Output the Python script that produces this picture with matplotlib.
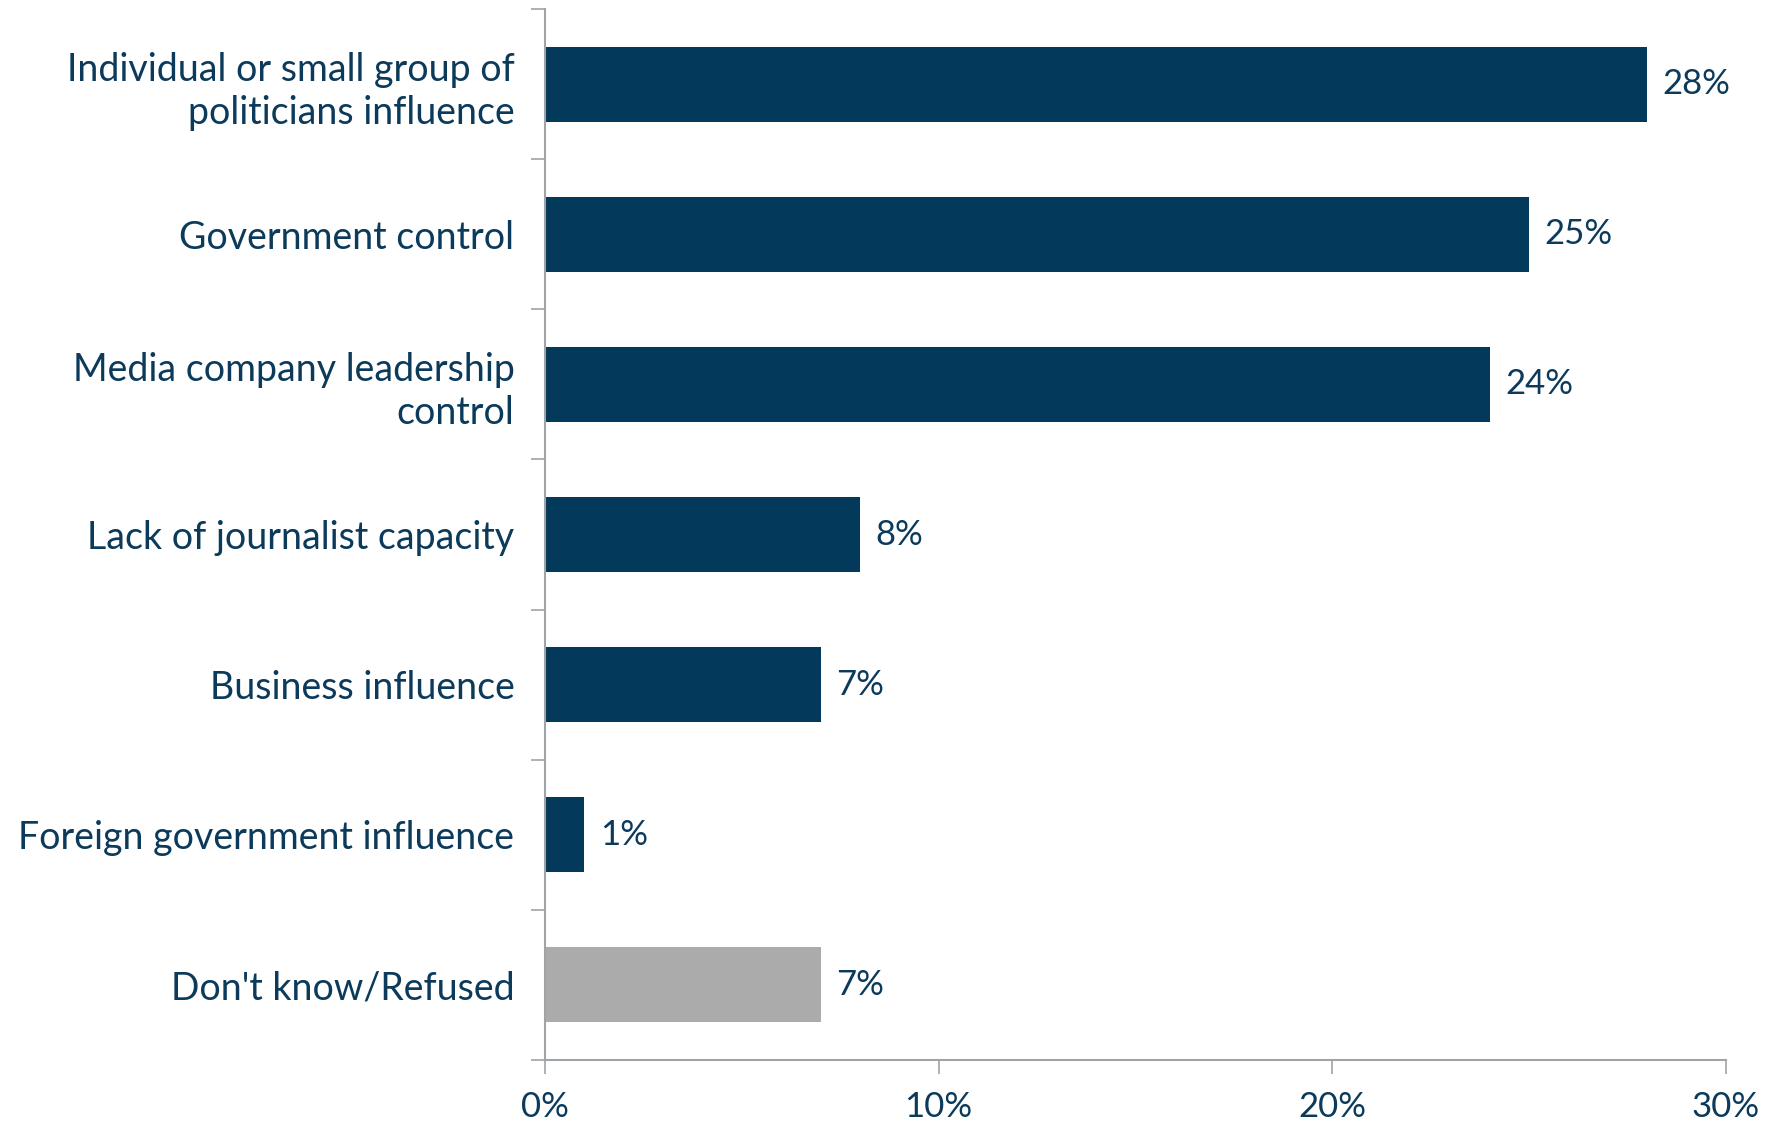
import matplotlib
matplotlib.use("Agg")
import matplotlib.pyplot as plt

categories = [
    "Individual or small group of\npoliticians influence",
    "Government control",
    "Media company leadership\ncontrol",
    "Lack of journalist capacity",
    "Business influence",
    "Foreign government influence",
    "Don't know/Refused",
]
values = [28, 25, 24, 8, 7, 1, 7]
bar_colors = ["#033A5C"] * 6 + ["#ABABAC"]
xticks = [0, 10, 20, 30]
xtick_labels = ["0%", "10%", "20%", "30%"]

text_color = "#0B3A5B"
axis_color = "#A0A4A8"

plt.rcParams['font.family'] = ['Lato', 'DejaVu Sans']

fig = plt.figure(figsize=(17.77, 11.23), dpi=100)
ax = fig.add_axes([545/1777, 1 - 1060/1123, (1726-545)/1777, (1060-9)/1123])

n = len(categories)
ypos = list(range(n))
ax.barh(ypos, values, height=0.5, color=bar_colors, zorder=2)
ax.set_ylim(n - 0.5, -0.5)
ax.set_xlim(0, 30)

for y, v in zip(ypos, values):
    ax.annotate(f"{v}%", (v, y), xytext=(11, 0), textcoords="offset points",
                va="center", ha="left", fontsize=25, color=text_color)

ax.set_yticks(ypos)
ax.set_yticklabels(categories, fontsize=27, color=text_color, linespacing=1.25)
ax.tick_params(axis="y", length=0, pad=22)
ax.set_yticks([i - 0.5 for i in range(n + 1)], minor=True)
ax.tick_params(axis="y", which="minor", length=10, color=axis_color, width=1.2)

ax.set_xticks(xticks)
ax.set_xticklabels(xtick_labels, fontsize=25, color=text_color)
ax.tick_params(axis="x", length=10, color=axis_color, width=1.2, pad=12)

for s in ["top", "right"]:
    ax.spines[s].set_visible(False)
for s in ["left", "bottom"]:
    ax.spines[s].set_color(axis_color)
    ax.spines[s].set_linewidth(1.5)

fig.savefig("out.png", dpi=100, facecolor="white")
